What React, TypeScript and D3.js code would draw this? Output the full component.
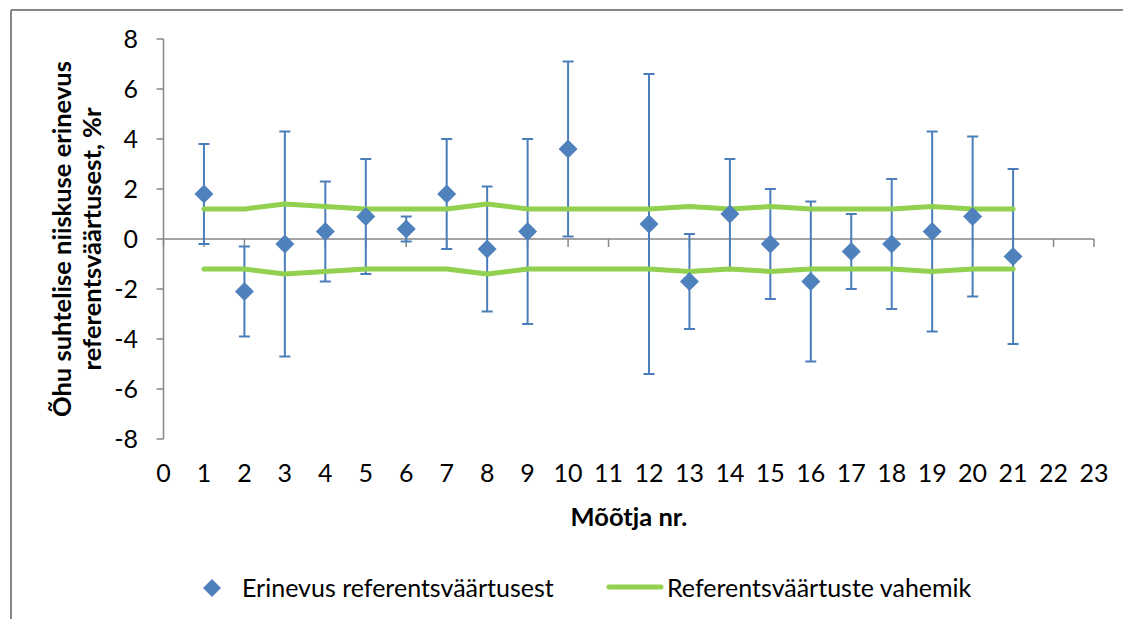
import React from "react";
import * as d3 from "d3";

const meterNo = [1, 2, 3, 4, 5, 6, 7, 8, 9, 10, 12, 13, 14, 15, 16, 17, 18, 19, 20, 21];
const difference = [1.8, -2.1, -0.2, 0.3, 0.9, 0.4, 1.8, -0.4, 0.3, 3.6, 0.6, -1.7, 1.0, -0.2, -1.7, -0.5, -0.2, 0.3, 0.9, -0.7];
const errHigh = [3.8, -0.3, 4.3, 2.3, 3.2, 0.9, 4.0, 2.1, 4.0, 7.1, 6.6, 0.2, 3.2, 2.0, 1.5, 1.0, 2.4, 4.3, 4.1, 2.8];
const errLow = [-0.2, -3.9, -4.7, -1.7, -1.4, -0.1, -0.4, -2.9, -3.4, 0.1, -5.4, -3.6, -1.2, -2.4, -4.9, -2.0, -2.8, -3.7, -2.3, -4.2];
const rangeHigh = [1.2, 1.2, 1.4, 1.3, 1.2, 1.2, 1.2, 1.4, 1.2, 1.2, 1.2, 1.3, 1.2, 1.3, 1.2, 1.2, 1.2, 1.3, 1.2, 1.2];
const rangeLow = [-1.2, -1.2, -1.4, -1.3, -1.2, -1.2, -1.2, -1.4, -1.2, -1.2, -1.2, -1.3, -1.2, -1.3, -1.2, -1.2, -1.2, -1.3, -1.2, -1.2];
const xTicks = d3.range(0, 24);
const yTicks = [-8, -6, -4, -2, 0, 2, 4, 6, 8];

const yTitle1 = "Õhu suhtelise niiskuse erinevus";
const yTitle2 = "referentsväärtusest, %r";
const xTitle = "Mõõtja nr.";
const legend1 = "Erinevus referentsväärtusest";
const legend2 = "Referentsväärtuste vahemik";

const FONT = "Lato, 'Open Sans', sans-serif";
const AXIS = "#868686";
const BLUE = "#4f81bd";
const BAR = "#4a7ebb";
const GREEN = "#92d050";

export default function App() {
  const x = d3.scaleLinear().domain([0, 23]).range([163.5, 1094]);
  const y = d3.scaleLinear().domain([-8, 8]).range([439, 39]);
  const line = d3
    .line<[number, number]>()
    .x((d) => x(d[0]))
    .y((d) => y(d[1]));
  const hi: [number, number][] = meterNo.map((m, i) => [m, rangeHigh[i]]);
  const lo: [number, number][] = meterNo.map((m, i) => [m, rangeLow[i]]);
  const diamond = (cx: number, cy: number, r: number) =>
    `M${cx},${cy - r}L${cx + r},${cy}L${cx},${cy + r}L${cx - r},${cy}Z`;
  const fs = 25;
  const fsTitle = 25.5;

  return (
    <svg
      width={1123}
      height={619}
      style={{ position: "absolute", left: 0, top: 0, background: "#fff" }}
      fontFamily={FONT}
    >
      <rect x={0} y={0} width={1123} height={619} fill="#fff" />
      {/* frame */}
      <line x1={11} y1={10} x2={1123} y2={10} stroke={AXIS} strokeWidth={2} />
      <line x1={11} y1={10} x2={11} y2={619} stroke={AXIS} strokeWidth={2} />

      {/* y axis */}
      <line x1={x(0)} y1={y(8)} x2={x(0)} y2={y(-8)} stroke={AXIS} strokeWidth={1.5} />
      {yTicks.map((t) => (
        <g key={"yt" + t}>
          <line x1={x(0) - 7} x2={x(0)} y1={y(t)} y2={y(t)} stroke={AXIS} strokeWidth={1.5} />
          <text x={138} y={y(t)} dy="0.35em" textAnchor="end" fontSize={fs} fill="#000">
            {t}
          </text>
        </g>
      ))}
      {/* x axis at 0 */}
      <line x1={x(0)} y1={y(0)} x2={x(23)} y2={y(0)} stroke={AXIS} strokeWidth={1.5} />
      {xTicks.map((t) => (
        <g key={"xt" + t}>
          <line x1={x(t)} x2={x(t)} y1={y(0)} y2={y(0) + 8} stroke={AXIS} strokeWidth={1.5} />
          <text x={x(t)} y={482} textAnchor="middle" fontSize={fs} fill="#000">
            {t}
          </text>
        </g>
      ))}

      {/* titles */}
      <text x={629} y={526} textAnchor="middle" fontSize={fsTitle} fontWeight="bold" fill="#000">
        {xTitle}
      </text>
      <g transform={`translate(0,${y(0)}) rotate(-90)`}>
        <text x={0} y={71} textAnchor="middle" fontSize={fsTitle} fontWeight="bold" fill="#000">
          {yTitle1}
        </text>
        <text x={0} y={101} textAnchor="middle" fontSize={fsTitle} fontWeight="bold" fill="#000">
          {yTitle2}
        </text>
      </g>

      {/* error bars */}
      {meterNo.map((m, i) => (
        <g key={"eb" + m} stroke={BAR} strokeWidth={2}>
          <line x1={x(m)} x2={x(m)} y1={y(errHigh[i])} y2={y(errLow[i])} />
          <line x1={x(m) - 5.5} x2={x(m) + 5.5} y1={y(errHigh[i])} y2={y(errHigh[i])} />
          <line x1={x(m) - 5.5} x2={x(m) + 5.5} y1={y(errLow[i])} y2={y(errLow[i])} />
        </g>
      ))}

      {/* range lines */}
      <path d={line(hi) || ""} fill="none" stroke={GREEN} strokeWidth={5} strokeLinejoin="round" strokeLinecap="round" />
      <path d={line(lo) || ""} fill="none" stroke={GREEN} strokeWidth={5} strokeLinejoin="round" strokeLinecap="round" />

      {/* diamonds */}
      {meterNo.map((m, i) => (
        <path key={"d" + m} d={diamond(x(m), y(difference[i]), 9.5)} fill={BLUE} />
      ))}

      {/* legend */}
      <path d={diamond(212, 588, 9)} fill={BLUE} />
      <text x={242} y={588} dy="0.35em" fontSize={fs} fill="#000">
        {legend1}
      </text>
      <line x1={609} x2={661} y1={587} y2={587} stroke={GREEN} strokeWidth={5} strokeLinecap="round" />
      <text x={667} y={588} dy="0.35em" fontSize={fs} fill="#000">
        {legend2}
      </text>
    </svg>
  );
}
